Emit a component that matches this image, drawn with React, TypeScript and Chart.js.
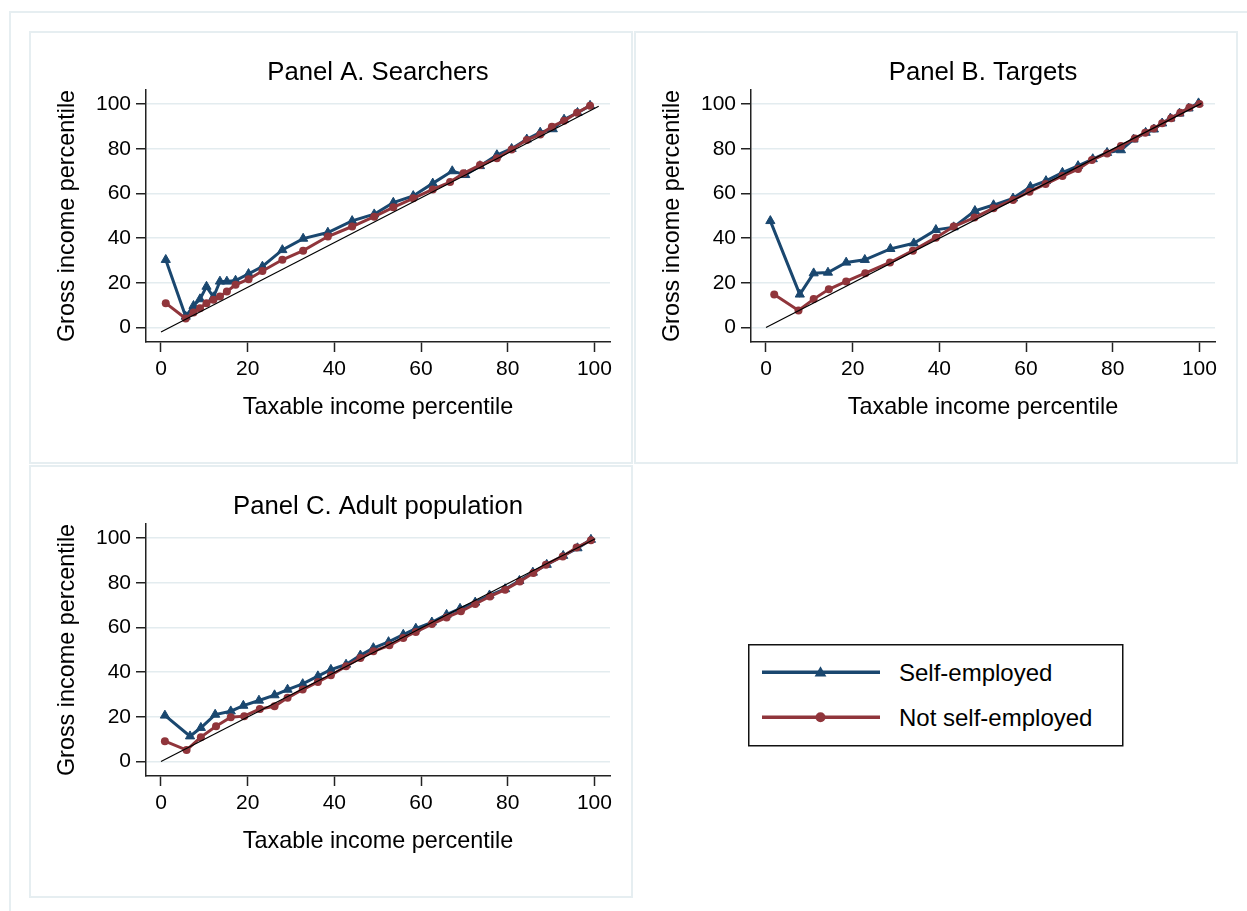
import React, { useEffect, useRef } from 'react';
import { Chart, registerables } from 'chart.js';

Chart.register(...registerables);

const FONT = '"Liberation Sans", Arial, Helvetica, sans-serif';
const BLUE = '#1a476f';
const RED = '#90353b';
const GRID = '#e3ecef';
const FRAME = '#e6eef1';
const AXIS = '#222222';

const tickValues = [0, 20, 40, 60, 80, 100];
const seriesLabels = ['Self-employed', 'Not self-employed'];
const panelTitles = ['Panel A. Searchers', 'Panel B. Targets', 'Panel C. Adult population'];
const xAxisTitle = 'Taxable income percentile';
const yAxisTitle = 'Gross income percentile';

// Panel A. Searchers
const aSelfX = [1.1, 5.7, 7.5, 9.0, 10.5, 12.1, 13.6, 15.2, 17.2, 20.2, 23.4, 28.0, 32.8, 38.5, 44.1, 49.2, 53.6, 58.2, 62.7, 67.2, 70.2, 73.6, 77.5, 80.9, 84.4, 87.5, 90.4, 93.0, 96.1, 99.0];
const aSelfY = [30.3, 4.9, 9.7, 12.7, 18.3, 13.6, 20.6, 20.6, 21.0, 24.0, 27.3, 34.7, 39.8, 42.5, 47.7, 50.7, 55.9, 58.9, 64.5, 70.0, 68.3, 72.3, 77.2, 80.0, 84.2, 87.3, 88.8, 93.1, 96.1, 99.3];
const aNotX = [1.1, 5.7, 7.5, 9.0, 10.5, 12.1, 13.6, 15.2, 17.2, 20.2, 23.4, 28.0, 32.8, 38.5, 44.1, 49.2, 53.6, 58.2, 62.7, 66.7, 69.8, 73.6, 77.5, 80.9, 84.4, 87.5, 90.2, 93.0, 96.0, 99.0];
const aNotY = [10.9, 4.0, 6.7, 8.6, 10.9, 12.4, 13.9, 16.1, 19.1, 21.6, 25.3, 30.3, 34.4, 40.7, 45.2, 49.6, 53.8, 57.8, 61.8, 65.1, 69.0, 72.7, 75.7, 79.7, 83.9, 86.4, 89.9, 92.5, 96.1, 99.3];
const aDiagX = [0, 101];
const aDiagY = [-2, 99];

// Panel B. Targets
const bSelfX = [1.0, 7.8, 11.0, 14.3, 18.5, 22.8, 28.7, 34.1, 39.2, 43.3, 48.2, 52.5, 57.0, 61.0, 64.6, 68.4, 72.0, 75.4, 78.7, 81.9, 84.8, 87.6, 89.5, 91.4, 93.3, 95.4, 97.5, 99.8];
const bSelfY = [47.7, 14.8, 24.3, 24.6, 29.1, 30.3, 35.2, 37.7, 43.7, 44.9, 52.2, 54.8, 57.8, 63.0, 65.6, 69.3, 72.3, 75.4, 78.2, 79.4, 84.2, 87.2, 88.7, 91.4, 93.6, 95.8, 98.1, 100.4];
const bNotX = [1.9, 7.5, 11.0, 14.5, 18.5, 22.9, 28.6, 33.9, 39.2, 43.3, 48.1, 52.5, 57.0, 60.8, 64.5, 68.4, 72.0, 75.2, 78.7, 81.9, 85.1, 87.5, 89.5, 91.4, 93.5, 95.6, 97.7, 100.0];
const bNotY = [14.8, 7.6, 12.7, 17.1, 20.6, 24.3, 29.1, 34.4, 40.2, 45.2, 49.2, 53.4, 57.1, 60.8, 64.2, 67.8, 70.9, 75.0, 77.9, 81.2, 84.6, 87.2, 89.1, 91.4, 93.6, 96.1, 98.5, 100.0];
const bDiagX = [0, 100.5];
const bDiagY = [0, 100.3];

// Panel C. Adult population
const cSelfX = [0.9, 6.7, 9.2, 12.5, 16.1, 19.0, 22.6, 26.2, 29.2, 32.7, 36.2, 39.2, 42.7, 46.0, 49.0, 52.5, 55.9, 58.8, 62.5, 65.9, 69.0, 72.5, 75.8, 79.4, 82.7, 85.8, 89.0, 92.8, 96.1, 99.2];
const cSelfY = [20.6, 11.3, 15.1, 21.0, 22.5, 25.0, 27.3, 29.7, 32.2, 34.7, 38.2, 41.1, 43.4, 47.5, 50.8, 53.5, 56.8, 59.5, 62.3, 65.7, 68.4, 71.2, 74.4, 77.2, 80.9, 84.6, 88.1, 92.1, 95.5, 99.3];
const cNotX = [0.9, 5.9, 9.2, 12.7, 16.1, 19.2, 22.8, 26.2, 29.2, 32.7, 36.2, 39.2, 42.7, 46.0, 49.0, 52.7, 55.9, 58.8, 62.5, 65.9, 69.2, 72.5, 75.9, 79.4, 82.8, 85.9, 88.8, 92.7, 95.9, 99.2];
const cNotY = [9.1, 5.1, 10.9, 15.8, 19.8, 20.3, 23.5, 24.7, 28.5, 32.2, 35.6, 38.6, 42.6, 46.3, 49.3, 52.0, 55.3, 58.0, 61.5, 64.5, 67.2, 70.5, 73.9, 76.9, 80.6, 84.4, 88.1, 91.8, 95.8, 99.0];
const cDiagX = [0, 100.2];
const cDiagY = [0, 99.7];

function pts(xs: number[], ys: number[]) {
  return xs.map((x, i) => ({ x, y: ys[i] }));
}

const panelTitlePlugin = {
  id: 'panelTitle',
  afterDraw(chart: any, _args: any, opts: any) {
    const { ctx, chartArea } = chart;
    ctx.save();
    ctx.font = `25.7px ${FONT}`;
    ctx.fillStyle = '#000';
    ctx.textAlign = 'center';
    ctx.textBaseline = 'alphabetic';
    ctx.fillText(opts.text, (chartArea.left + chartArea.right) / 2, opts.y);
    ctx.restore();
  },
};

const CW = 603;
const CH = 432;

type PanelProps = {
  left: number;
  top: number;
  title: string;
  selfX: number[];
  selfY: number[];
  notX: number[];
  notY: number[];
  diagX: number[];
  diagY: number[];
};

function Panel(p: PanelProps) {
  const ref = useRef<HTMLCanvasElement | null>(null);
  useEffect(() => {
    if (!ref.current) return;
    const chart = new Chart(ref.current, {
      type: 'line',
      data: {
        datasets: [
          {
            label: 'diagonal',
            data: pts(p.diagX, p.diagY),
            borderColor: '#000',
            borderWidth: 1.2,
            pointRadius: 0,
            order: 0,
          },
          {
            label: seriesLabels[1],
            data: pts(p.notX, p.notY),
            borderColor: RED,
            backgroundColor: RED,
            borderWidth: 3,
            pointStyle: 'circle',
            pointRadius: 4,
            pointBorderWidth: 0,
            pointBackgroundColor: RED,
            order: 1,
          },
          {
            label: seriesLabels[0],
            data: pts(p.selfX, p.selfY),
            borderColor: BLUE,
            backgroundColor: BLUE,
            borderWidth: 3,
            pointStyle: 'triangle',
            pointRadius: 5.3,
            pointBorderWidth: 1,
            pointBorderColor: BLUE,
            pointBackgroundColor: BLUE,
            order: 2,
          },
        ],
      } as any,
      options: {
        responsive: false,
        animation: false,
        layout: { padding: { top: 58, right: 23, left: 0, bottom: 0 } },
        plugins: {
          legend: { display: false },
          tooltip: { enabled: false },
          panelTitle: { text: p.title, y: 48 },
        } as any,
        scales: {
          x: {
            type: 'linear',
            min: -3.46,
            max: 103.6,
            afterBuildTicks: (a: any) => {
              a.ticks = tickValues.map((v) => ({ value: v }));
            },
            afterFit: (s: any) => {
              s.height = 122;
            },
            grid: {
              drawOnChartArea: false,
              drawTicks: true,
              tickLength: 10,
              tickColor: AXIS,
              tickWidth: 1.5,
            },
            border: { display: true, color: AXIS, width: 1.5 },
            ticks: {
              font: { size: 21, family: FONT },
              color: '#000',
              padding: 5,
              maxRotation: 0,
              autoSkip: false,
            },
            title: {
              display: true,
              text: xAxisTitle,
              font: { size: 23.4, family: FONT },
              color: '#000',
              padding: { top: 0, bottom: 42 },
            },
          },
          y: {
            type: 'linear',
            min: -6.5,
            max: 106.3,
            afterBuildTicks: (a: any) => {
              a.ticks = tickValues.map((v) => ({ value: v }));
            },
            afterFit: (s: any) => {
              s.width = 116;
            },
            grid: {
              color: GRID,
              lineWidth: 1.5,
              drawTicks: true,
              tickLength: 10,
              tickColor: AXIS,
              tickWidth: 1.5,
            },
            border: { display: true, color: AXIS, width: 1.5 },
            ticks: {
              font: { size: 21, family: FONT },
              color: '#000',
              padding: 5,
              autoSkip: false,
            },
            title: {
              display: true,
              text: yAxisTitle,
              font: { size: 23.4, family: FONT },
              color: '#000',
              padding: { top: 24, bottom: 0 },
            },
          },
        },
      } as any,
      plugins: [panelTitlePlugin as any],
    });
    return () => chart.destroy();
  }, []);

  return (
    <>
      <div
        style={{
          position: 'absolute',
          left: p.left - 1,
          top: p.top - 1,
          width: 604,
          height: 433,
          border: `2px solid ${FRAME}`,
          boxSizing: 'border-box',
        }}
      />
      <canvas
        ref={ref}
        width={CW}
        height={CH}
        style={{ position: 'absolute', left: p.left, top: p.top, width: CW, height: CH }}
      />
    </>
  );
}

function Legend() {
  return (
    <svg
      style={{ position: 'absolute', left: 748, top: 644 }}
      width={376}
      height={103}
    >
      <rect x={0.75} y={0.75} width={374} height={101} fill="#fff" stroke="#111" strokeWidth={1.5} />
      <line x1={14} x2={132} y1={28.3} y2={28.3} stroke={BLUE} strokeWidth={3.5} />
      <polygon points="72.5,22.3 66.6,32.6 78.4,32.6" fill={BLUE} />
      <text x={151} y={37} fontFamily={FONT} fontSize={24} fill="#000">
        {seriesLabels[0]}
      </text>
      <line x1={14} x2={132} y1={73.3} y2={73.3} stroke={RED} strokeWidth={3.5} />
      <circle cx={72.5} cy={73.3} r={5} fill={RED} />
      <text x={151} y={81.5} fontFamily={FONT} fontSize={24} fill="#000">
        {seriesLabels[1]}
      </text>
    </svg>
  );
}

export default function App() {
  return (
    <div
      style={{
        position: 'absolute',
        left: 0,
        top: 0,
        width: 1247,
        height: 911,
        overflow: 'hidden',
        background: '#fff',
      }}
    >
      <div
        style={{
          position: 'absolute',
          left: 9,
          top: 11,
          width: 1300,
          height: 1000,
          border: `2px solid ${FRAME}`,
          boxSizing: 'border-box',
        }}
      />
      <Panel left={30} top={32} title={panelTitles[0]} selfX={aSelfX} selfY={aSelfY} notX={aNotX} notY={aNotY} diagX={aDiagX} diagY={aDiagY} />
      <Panel left={635} top={32} title={panelTitles[1]} selfX={bSelfX} selfY={bSelfY} notX={bNotX} notY={bNotY} diagX={bDiagX} diagY={bDiagY} />
      <Panel left={30} top={466} title={panelTitles[2]} selfX={cSelfX} selfY={cSelfY} notX={cNotX} notY={cNotY} diagX={cDiagX} diagY={cDiagY} />
      <Legend />
    </div>
  );
}
